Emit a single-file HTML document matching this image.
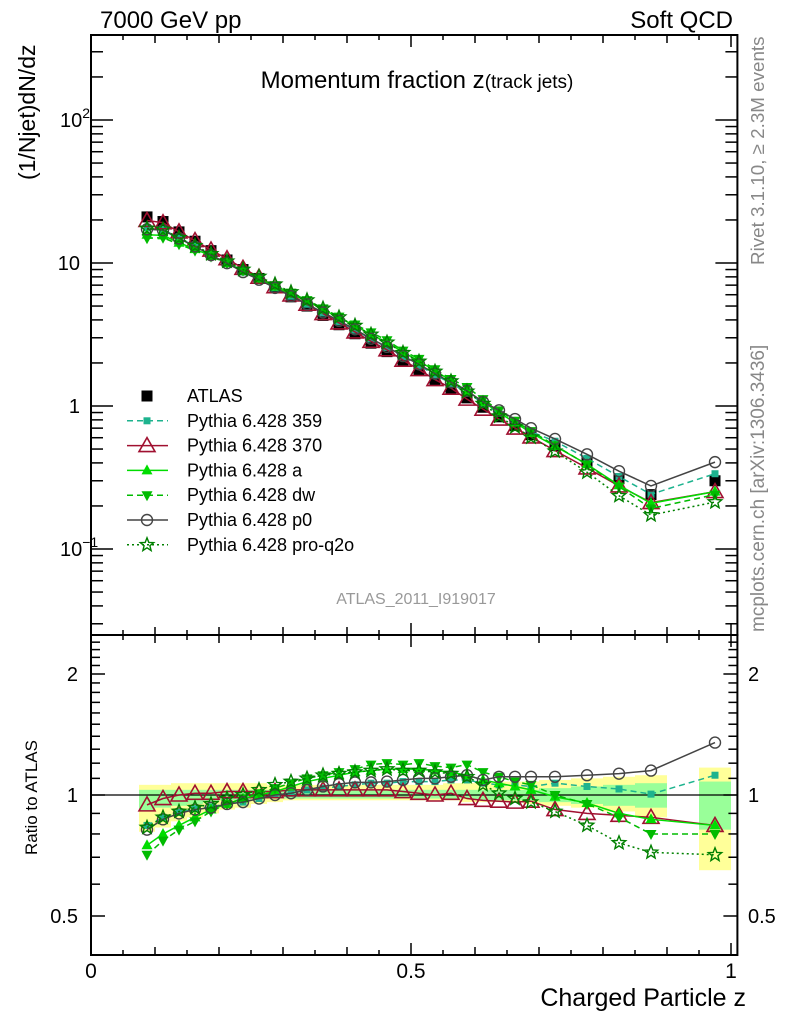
<!DOCTYPE html>
<html><head><meta charset="utf-8"><style>
html,body{margin:0;padding:0;background:#fff}
svg{display:block;font-family:"Liberation Sans",sans-serif}
</style></head><body>
<svg id="c" width="786" height="1024" viewBox="0 0 786 1024">
<text x="100" y="28" font-size="24">7000 GeV pp</text>
<text x="733" y="28" font-size="24" text-anchor="end">Soft QCD</text>
<text x="417" y="88" font-size="24" text-anchor="middle">Momentum fraction z<tspan font-size="19">(track jets)</tspan></text>
<text x="416" y="604" font-size="16" fill="#999" text-anchor="middle">ATLAS_2011_I919017</text>
<text transform="translate(764,265) rotate(-90)" font-size="18.8" fill="#888">Rivet 3.1.10, ≥ 2.3M events</text>
<text transform="translate(764,632) rotate(-90)" font-size="19" fill="#888">mcplots.cern.ch [arXiv:1306.3436]</text>
<text transform="translate(35,180) rotate(-90)" font-size="23">(1/Njet)dN/dz</text>
<text transform="translate(37,855) rotate(-90)" font-size="17">Ratio to ATLAS</text>
<text x="746" y="1006" font-size="25" text-anchor="end">Charged Particle z</text>
<g id="bands"></g>
<g id="axes"></g>
<g id="series"></g>
<g id="legend"></g>
</svg>
<script>
const xCenters=[0.0875,0.1125,0.1375,0.1625,0.1875,0.2125,0.2375,0.2625,0.2875,0.3125,0.3375,0.3625,0.3875,0.4125,0.4375,0.4625,0.4875,0.5125,0.5375,0.5625,0.5875,0.6125,0.6375,0.6625,0.6875,0.725,0.775,0.825,0.875,0.975];
const xLo=[0.075,0.1,0.125,0.15,0.175,0.2,0.225,0.25,0.275,0.3,0.325,0.35,0.375,0.4,0.425,0.45,0.475,0.5,0.525,0.55,0.575,0.6,0.625,0.65,0.675,0.7,0.75,0.8,0.85,0.95];
const xHi=[0.1,0.125,0.15,0.175,0.2,0.225,0.25,0.275,0.3,0.325,0.35,0.375,0.4,0.425,0.45,0.475,0.5,0.525,0.55,0.575,0.6,0.625,0.65,0.675,0.7,0.75,0.8,0.85,0.9,1.0];
const atlas=[21,19.5,16.5,14.2,12.2,10.5,9.0,7.8,6.7,5.8,5.0,4.3,3.7,3.2,2.75,2.4,2.05,1.78,1.53,1.32,1.14,0.98,0.84,0.73,0.63,0.53,0.41,0.31,0.24,0.30];
const yelHi=[1.06,1.06,1.07,1.07,1.07,1.07,1.07,1.07,1.06,1.06,1.06,1.06,1.06,1.06,1.06,1.06,1.06,1.06,1.06,1.07,1.07,1.07,1.08,1.08,1.08,1.09,1.10,1.11,1.12,1.17];
const yelLo=[0.81,0.83,0.86,0.88,0.90,0.92,0.93,0.95,0.96,0.97,0.97,0.97,0.97,0.97,0.97,0.97,0.97,0.97,0.97,0.97,0.96,0.96,0.96,0.96,0.95,0.94,0.93,0.91,0.88,0.65];
const grnHi=[1.03,1.03,1.03,1.03,1.03,1.03,1.03,1.03,1.03,1.03,1.03,1.03,1.03,1.03,1.03,1.03,1.03,1.03,1.03,1.03,1.03,1.03,1.03,1.03,1.03,1.04,1.05,1.06,1.07,1.08];
const grnLo=[0.91,0.93,0.94,0.95,0.96,0.97,0.97,0.98,0.98,0.98,0.98,0.98,0.98,0.98,0.98,0.98,0.98,0.98,0.98,0.98,0.98,0.97,0.97,0.97,0.97,0.96,0.95,0.94,0.93,0.82];
const r359=[0.84,0.88,0.905,0.925,0.935,0.95,0.96,0.98,1.0,1.01,1.03,1.04,1.05,1.06,1.07,1.07,1.08,1.08,1.08,1.09,1.09,1.07,1.06,1.06,1.05,1.07,1.05,1.035,1.005,1.12];
const r370=[0.945,0.98,1.0,1.01,1.01,1.02,1.02,1.02,1.02,1.03,1.03,1.03,1.03,1.03,1.03,1.03,1.02,1.01,1.0,1.01,0.98,0.97,0.965,0.96,0.965,0.92,0.90,0.89,0.88,0.84];
const rA=[0.75,0.80,0.84,0.88,0.92,0.95,0.98,1.0,1.02,1.05,1.08,1.10,1.12,1.14,1.15,1.16,1.16,1.16,1.15,1.14,1.12,1.09,1.07,1.05,1.03,0.99,0.955,0.90,0.87,0.84];
const rDW=[0.71,0.77,0.82,0.86,0.91,0.95,0.98,1.01,1.04,1.07,1.10,1.12,1.14,1.16,1.19,1.20,1.19,1.20,1.18,1.17,1.19,1.14,1.11,1.08,1.06,1.0,0.95,0.88,0.80,0.80];
const rP0=[0.82,0.87,0.90,0.92,0.93,0.95,0.96,0.98,1.0,1.01,1.03,1.05,1.065,1.075,1.075,1.08,1.09,1.10,1.10,1.11,1.12,1.09,1.11,1.11,1.11,1.11,1.12,1.13,1.15,1.35];
const rPQ=[0.83,0.88,0.91,0.93,0.95,0.98,1.0,1.03,1.06,1.08,1.10,1.12,1.13,1.14,1.15,1.16,1.15,1.15,1.14,1.13,1.11,1.06,1.01,0.98,0.96,0.91,0.84,0.76,0.72,0.71];
const legendLabels=["ATLAS","Pythia 6.428 359","Pythia 6.428 370","Pythia 6.428 a","Pythia 6.428 dw","Pythia 6.428 p0","Pythia 6.428 pro-q2o"];
const mainTickBase=["10","1","10","10"];
const mainTickExp=["\u22121","","","2"];
const ratioTickLabels=["0.5","1","2"];
const xTickLabels=["0","0.5","1"];

const NS="http://www.w3.org/2000/svg";
const L=91,R=737.4,T=35,MB=635,RB=955;
const X=v=>L+v*640;
const YM=v=>263-(Math.log10(v)-1)*143;
const YR=v=>795-Math.log2(v)*121;
function mk(tag,attrs,parent){const e=document.createElementNS(NS,tag);for(const k in attrs)e.setAttribute(k,attrs[k]);parent.appendChild(e);return e;}
const bands=document.getElementById('bands'),axes=document.getElementById('axes'),series=document.getElementById('series'),legend=document.getElementById('legend');

for(let i=0;i<xCenters.length;i++){
  let y=mk('rect',{x:X(xLo[i]),y:YR(yelHi[i]),width:X(xHi[i])-X(xLo[i]),height:YR(yelLo[i])-YR(yelHi[i]),fill:'#ffff99'},bands);
  
  
  let g=mk('rect',{x:X(xLo[i]),y:YR(grnHi[i]),width:X(xHi[i])-X(xLo[i]),height:YR(grnLo[i])-YR(grnHi[i]),fill:'#99ff99'},bands);
  
  
}
let ref=mk('line',{x1:L,x2:R,y1:YR(1),y2:YR(1),stroke:'#000','stroke-width':1.2},axes);



let f1=mk('rect',{x:L,y:T,width:R-L,height:MB-T,fill:'none',stroke:'#000','stroke-width':2},axes);


let f2=mk('rect',{x:L,y:MB,width:R-L,height:RB-MB,fill:'none',stroke:'#000','stroke-width':2},axes);



function tick(x1,y1,x2,y2){let t=mk('line',{x1,y1,x2,y2,stroke:'#000','stroke-width':1.5},axes);}
for(let k=0;k<=20;k++){const v=k*0.05;const px=X(v);const len=(k%10==0)?12:(k%2==0?8:5);
  [T,MB].forEach(yb=>tick(px,yb,px,yb+len));
  [MB,RB].forEach(yb=>tick(px,yb,px,yb-len));}
for(let d=-2;d<=2;d++){for(let m=1;m<=9;m++){const v=m*Math.pow(10,d);const py=YM(v);if(py<T||py>MB)continue;const len=m==1?22:12;tick(L,py,L+len,py);tick(R,py,R-len,py);}}
[0.4,0.5,0.6,0.7,0.8,0.9,1,1.1,1.2,1.3,1.4,1.5,1.6,1.7,1.8,1.9,2,2.1,2.2,2.3,2.4,2.5].forEach(v=>{const py=YR(v);if(py<MB||py>RB)return;const len=(v==0.5||v==1||v==2)?14:9;tick(L,py,L+len,py);tick(R,py,R-len,py);});

function label(x,y,txt,anchor,size,name){let t=mk('text',{x,y,'font-size':size,'text-anchor':anchor},axes);t.textContent=txt;return t;}
[0.1,1,10,100].forEach((v,i)=>{const py=YM(v)+7;
  if(mainTickExp[i]){let t=label(60,py,mainTickBase[i],'start',20,'y-tick-label');const sup=document.createElementNS(NS,'tspan');sup.setAttribute('dy','-9');sup.setAttribute('font-size','14');sup.textContent=mainTickExp[i];t.appendChild(sup);}
  else label(80,py,mainTickBase[i],'end',20,'y-tick-label');});
[0.5,1,2].forEach((v,i)=>{const py=YR(v)+7;label(78,py,ratioTickLabels[i],'end',20,'ratio-tick-label');label(748,py,ratioTickLabels[i],'start',20,'ratio-tick-label-right');});
[0,0.5,1].forEach((v,i)=>label(X(v),978,xTickLabels[i],'middle',21,'x-tick-label'));

function marker(g,type,x,y,color){let e;
  if(type=='sq') e=mk('rect',{x:x-5.5,y:y-5.5,width:11,height:11,fill:color},g);
  else if(type=='ssq') e=mk('rect',{x:x-3.5,y:y-3.5,width:7,height:7,fill:color},g);
  else if(type=='otri') e=mk('polygon',{points:`${x},${y-8} ${x-8},${y+6} ${x+8},${y+6}`,fill:'none',stroke:color,'stroke-width':1.6},g);
  else if(type=='tri') e=mk('polygon',{points:`${x},${y-6} ${x-5.5},${y+4} ${x+5.5},${y+4}`,fill:color},g);
  else if(type=='dtri') e=mk('polygon',{points:`${x},${y+6} ${x-5.5},${y-4} ${x+5.5},${y-4}`,fill:color},g);
  else if(type=='circ') e=mk('circle',{cx:x,cy:y,r:5.5,fill:'none',stroke:color,'stroke-width':1.4},g);
  else if(type=='star'){let p=[];for(let k=0;k<10;k++){const a=-Math.PI/2+k*Math.PI/5;const r=k%2?3:7;p.push((x+r*Math.cos(a)).toFixed(1)+','+(y+r*Math.sin(a)).toFixed(1));}e=mk('polygon',{points:p.join(' '),fill:'none',stroke:color,'stroke-width':1.4},g);}
  
  
}
const mcs=[
 {name:'pythia-359',r:r359,color:'#1db38e',dash:'6,4',m:'ssq'},
 {name:'pythia-370',r:r370,color:'#a01030',dash:'',m:'otri'},
 {name:'pythia-a',r:rA,color:'#00dd00',dash:'',m:'tri'},
 {name:'pythia-dw',r:rDW,color:'#00bb00',dash:'6,4',m:'dtri'},
 {name:'pythia-p0',r:rP0,color:'#444',dash:'',m:'circ'},
 {name:'pythia-pro-q2o',r:rPQ,color:'#008000',dash:'2,3',m:'star'}];
const ga=mk('g',{},series);


xCenters.forEach((x,i)=>marker(ga,'sq',X(x),YM(atlas[i]),'#000'));
mcs.forEach(s=>{
  const g=mk('g',{},series);
  
  
  const mainPts=xCenters.map((x,i)=>X(x)+','+YM(atlas[i]*s.r[i])).join(' ');
  const ratPts=xCenters.map((x,i)=>X(x)+','+YR(s.r[i])).join(' ');
  let l1=mk('polyline',{points:mainPts,fill:'none',stroke:s.color,'stroke-width':1.5,'stroke-dasharray':s.dash},g);
  
  
  let l2=mk('polyline',{points:ratPts,fill:'none',stroke:s.color,'stroke-width':1.5,'stroke-dasharray':s.dash},g);
  
  
  xCenters.forEach((x,i)=>{marker(g,s.m,X(x),YM(atlas[i]*s.r[i]),s.color);marker(g,s.m,X(x),YR(s.r[i]),s.color);});
});
const legTypes=[{m:'sq',c:'#000',d:null}].concat(mcs.map(s=>({m:s.m,c:s.color,d:s.dash})));
legTypes.forEach((t,i)=>{const y=396+i*24.8;
  const g=mk('g',{},legend);
  
  
  if(t.d!==null){let ln=mk('line',{x1:127,x2:168,y1:y,y2:y,stroke:t.c,'stroke-width':1.5,'stroke-dasharray':t.d},g);}
  marker(g,t.m,147,y,t.c);
  let tx=mk('text',{x:187,y:y+6,'font-size':18},g);tx.textContent=legendLabels[i];
  
  
});
</script>
</body></html>
